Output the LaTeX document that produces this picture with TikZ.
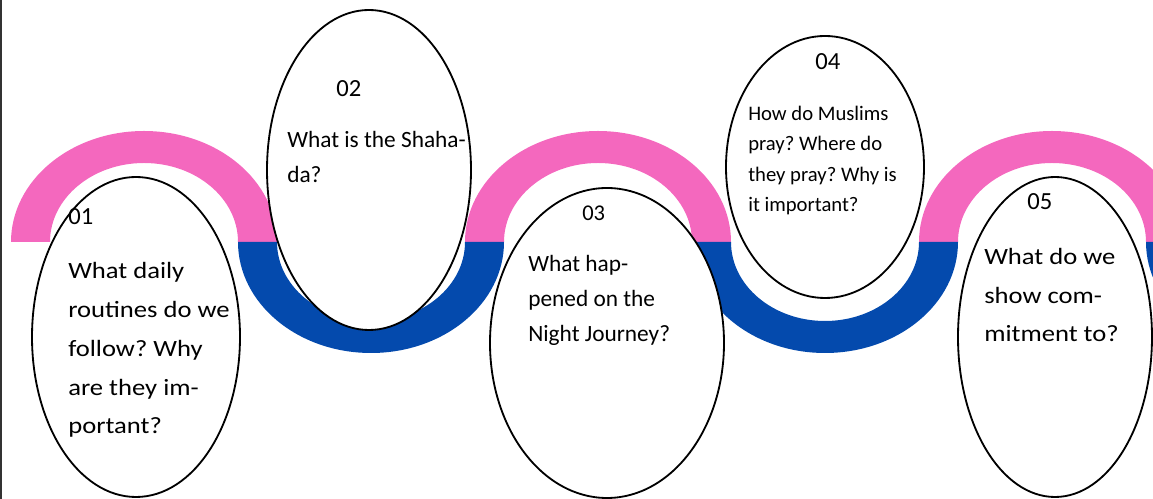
\documentclass[tikz,border=0pt]{standalone}
\usepackage{fontspec}
\setmainfont{Carlito}
\newfontfamily\widefont[FakeStretch=1.14]{Carlito}
\frenchspacing
\usetikzlibrary{shapes.geometric}
\definecolor{cpink}{HTML}{F468BE}
\definecolor{cblue}{HTML}{044AAD}
\definecolor{cgrey}{HTML}{333333}
\tikzset{
  every picture/.style={x=0.025cm, y=0.025cm},
  bubble/.style 2 args={ellipse, draw=black, fill=white, line width=1.3pt, inner sep=0pt, minimum width=#1*0.025cm, minimum height=#2*0.025cm},
  num/.style={anchor=base west, inner sep=0pt, font=\fontsize{17.5}{20}\selectfont},
  qtext/.style={anchor=base west, inner sep=0pt, align=left, font=\fontsize{16.6}{#1}\selectfont},
  qwide/.style={qtext=#1, font=\widefont\fontsize{16.6}{#1}\selectfont},
}

\begin{document}
\begin{tikzpicture}
  \useasboundingbox (0,0) rectangle (1153,499);

  % wave
  \begin{scope}
    \clip (0,0) rectangle (1153,499);
    \foreach \cx in {144,598,1052}
      \fill[cpink] (\cx-133,257) arc[start angle=180, end angle=0, x radius=133, y radius=111]
        -- (\cx+94,257) arc[start angle=0, end angle=180, x radius=94, y radius=79] -- cycle;
    \foreach \cx in {371,825,1279}
      \fill[cblue] (\cx-133,257) arc[start angle=180, end angle=360, x radius=133, y radius=111]
        -- (\cx+94,257) arc[start angle=360, end angle=180, x radius=94, y radius=79] -- cycle;
  \end{scope}
  \draw[cgrey, line width=1.4pt] (1,0) -- (1,499);

  % bubbles
  \node[bubble={208}{320}] (e1) at (136,162) {};
  \node[bubble={204}{320}] (e2) at (369,329) {};
  \node[bubble={234}{310}] (e3) at (607,156) {};
  \node[bubble={198}{262}] (e4) at (825,332) {};
  \node[bubble={194}{320}] (e5) at (1055,162) {};

  % 01 (base = last line)
  \node[num] (n1) at (68,274) {01};
  \node[qwide=27.7pt] (q1) at (68,65) {What daily\\routines do we\\follow? Why\\are they im-\\portant?};

  % 02
  \node[num] (n2) at (336,402) {02};
  \node[qtext=24.9pt] (q2) at (287,316) {What is the Shaha-\\da?};

  % 03
  \node[num, font=\fontsize{16}{20}\selectfont] (n3) at (582,278) {03};
  \node[qtext=24.9pt] (q3) at (528,157) {What hap-\\pened on the\\Night Journey?};

  % 04
  \node[num] (n4) at (815,429) {04};
  \node[qtext=21.8pt, font=\fontsize{14.7}{21.8}\selectfont] (q4) at (748,287) {How do Muslims\\pray? Where do\\they pray? Why is\\it important?};

  % 05
  \node[num] (n5) at (1027,289) {05};
  \node[qwide=27.4pt] (q5) at (984,157) {What do we\\show com-\\mitment to?};
\end{tikzpicture}
\end{document}
